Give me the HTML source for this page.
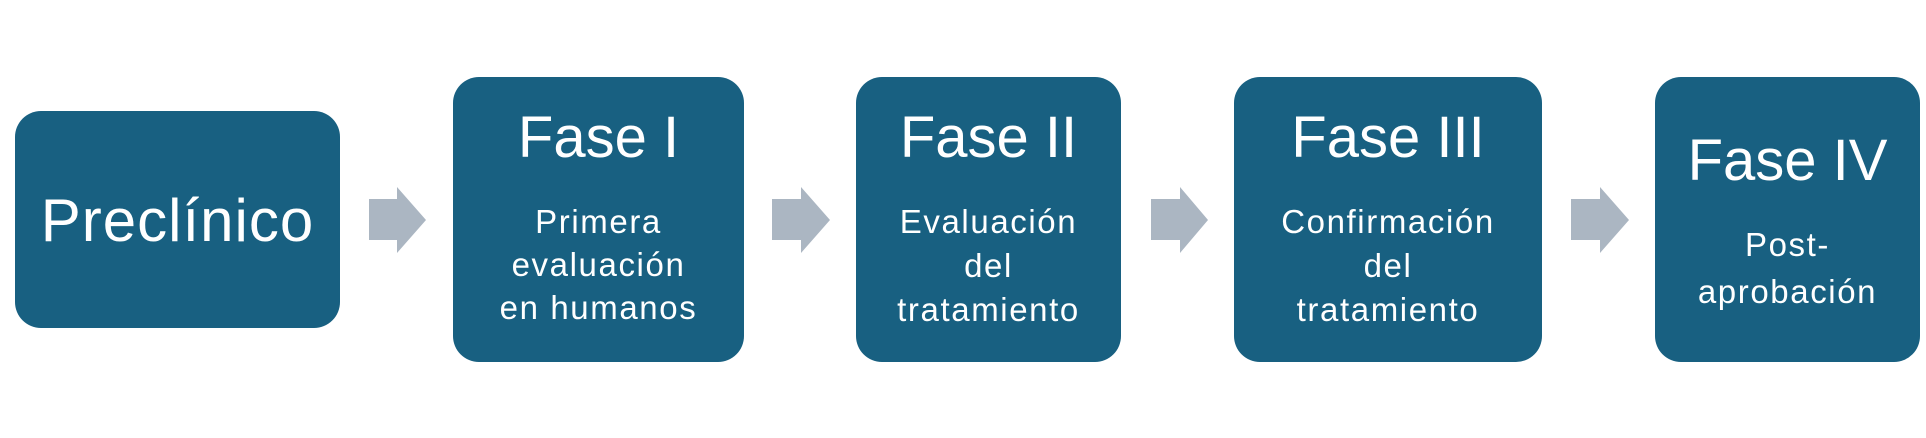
<!DOCTYPE html>
<html><head><meta charset="utf-8"><style>
body{margin:0;width:1926px;height:438px;background:#fff;position:relative;overflow:hidden;font-family:"Liberation Sans",sans-serif;}
.b{position:absolute;background:#186081;border-radius:26px;}
.t{position:absolute;left:0;right:0;text-align:center;color:#fff;white-space:nowrap;line-height:1;}
.h{font-size:58px;}
.s{font-size:33px;letter-spacing:1.6px;}
svg{position:absolute;left:0;top:0;}
</style></head><body>
<div class="b" style="left:15px;top:111px;width:325px;height:217px"><div class="t h" style="top:80px;font-size:60px;letter-spacing:1px">Preclínico</div></div>
<div class="b" style="left:453px;top:77px;width:291px;height:285px">
<div class="t h" style="top:32px">Fase I</div>
<div class="t s" style="top:128px">Primera</div>
<div class="t s" style="top:171px">evaluación</div>
<div class="t s" style="top:214px">en humanos</div></div>
<div class="b" style="left:856px;top:77px;width:265px;height:285px">
<div class="t h" style="top:32px">Fase II</div>
<div class="t s" style="top:128px">Evaluación</div>
<div class="t s" style="top:172px">del</div>
<div class="t s" style="top:216px">tratamiento</div></div>
<div class="b" style="left:1234px;top:77px;width:308px;height:285px">
<div class="t h" style="top:32px">Fase III</div>
<div class="t s" style="top:128px">Confirmación</div>
<div class="t s" style="top:172px">del</div>
<div class="t s" style="top:216px">tratamiento</div></div>
<div class="b" style="left:1655px;top:77px;width:265px;height:285px">
<div class="t h" style="top:55px">Fase IV</div>
<div class="t s" style="top:151px">Post-</div>
<div class="t s" style="top:198px">aprobación</div></div>
<svg width="1926" height="438">
<g fill="#abb6c2">
<polygon points="369,199 397,199 397,187 426,220 397,253 397,240 369,240"/>
<polygon points="772,199 801,199 801,187 830,220 801,253 801,240 772,240"/>
<polygon points="1151,199 1180,199 1180,187 1208,220 1180,253 1180,240 1151,240"/>
<polygon points="1571,199 1600,199 1600,187 1629,220 1600,253 1600,240 1571,240"/>
</g></svg>
</body></html>
